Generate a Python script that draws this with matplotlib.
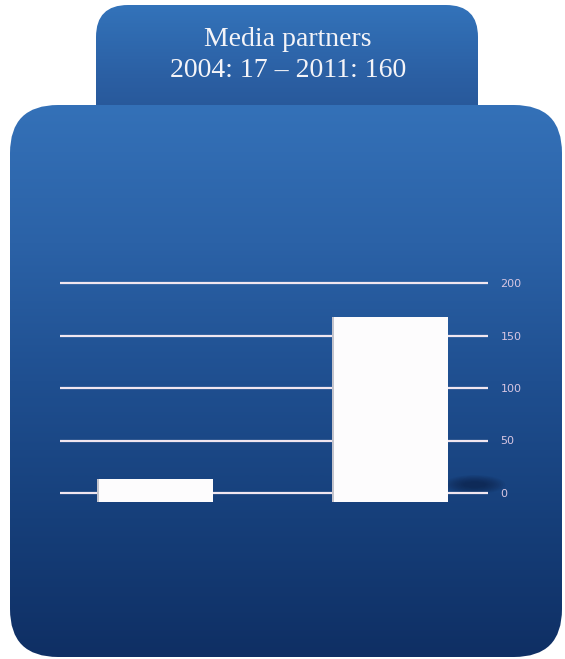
import numpy as np
import matplotlib
matplotlib.use("Agg")
import matplotlib.pyplot as plt
from matplotlib.patches import FancyBboxPatch, Ellipse
from matplotlib.colors import LinearSegmentedColormap

# data
years = ["2004", "2011"]
partners = [17, 160]
bar_tops = [13, 168]      # drawn heights as they appear against the grid
bar_base = -9             # bars sit a little below the zero line
y_ticks = [0, 50, 100, 150, 200]

title = "Media partners\n%s: %d \u2013 %s: %d" % (years[0], partners[0], years[1], partners[1])

W, H = 565, 659
fig = plt.figure(figsize=(W / 100, H / 100), dpi=100)
fig.patch.set_facecolor("white")

# background panels, drawn in pixel space
bg = fig.add_axes([0, 0, 1, 1])
bg.set_xlim(0, W)
bg.set_ylim(H, 0)
bg.axis("off")


def gradient_box(ax, x0, y0, x1, y1, rad, colors):
    box = FancyBboxPatch((x0 + rad, y0 + rad), (x1 - x0) - 2 * rad, (y1 - y0) - 2 * rad,
                         boxstyle="round,pad=%d" % rad, facecolor="none", edgecolor="none")
    ax.add_patch(box)
    cmap = LinearSegmentedColormap.from_list("g", colors)
    grad = np.linspace(0, 1, 256).reshape(-1, 1)
    im = ax.imshow(grad, cmap=cmap, extent=[x0, x1, y1, y0], aspect="auto",
                   interpolation="bicubic", zorder=1)
    im.set_clip_path(box)


gradient_box(bg, 96, 5, 478, 150, 32, ["#3373ba", "#2b5fa3", "#24508f"])
gradient_box(bg, 10, 105, 562, 657, 48, ["#3471b8", "#2b62a7", "#1f4f90", "#163f7a", "#0f2f64"])
bg.text(288, 55, title, ha="center", va="center", fontsize=20, color="#f4f4f8",
        family=["Liberation Serif", "DejaVu Serif"], linespacing=1.32, zorder=5)

# chart
ax = fig.add_axes([60 / W, 1 - 514 / H, 428 / W, (514 - 272.5) / H])
ax.patch.set_alpha(0)
ax.set_xlim(-0.404, 1.417)
ax.set_ylim(-20, 210)
for s in ax.spines.values():
    s.set_visible(False)
ax.set_xticks([])

ax.hlines(y_ticks, -0.404, 1.417, color="#f0e6f0", linewidth=1.6, zorder=2.6)
ax.set_yticks(y_ticks)
ax.yaxis.tick_right()
ax.tick_params(axis="y", length=0, pad=9, labelsize=8, labelcolor="#d8c6e2")

x = np.arange(len(years))
width = 0.494

# soft shadow to the right of the tall bar
for k in range(10):
    ax.add_patch(Ellipse((x[1] + 0.36, 8), 0.26 - 0.018 * k, 18 - 1.4 * k,
                         facecolor="#0a1a3a", edgecolor="none", alpha=0.07,
                         zorder=2.5, clip_on=False))

heights = [t - bar_base for t in bar_tops]
ax.bar(x, heights, width, bottom=bar_base, color="#fdfcfd", edgecolor="none", zorder=3)
ax.bar(x - width / 2 + 0.005, heights, 0.01, bottom=bar_base, color="#c4c4cc",
       edgecolor="none", zorder=3.5)

fig.savefig("out.png", dpi=100, facecolor="white")
